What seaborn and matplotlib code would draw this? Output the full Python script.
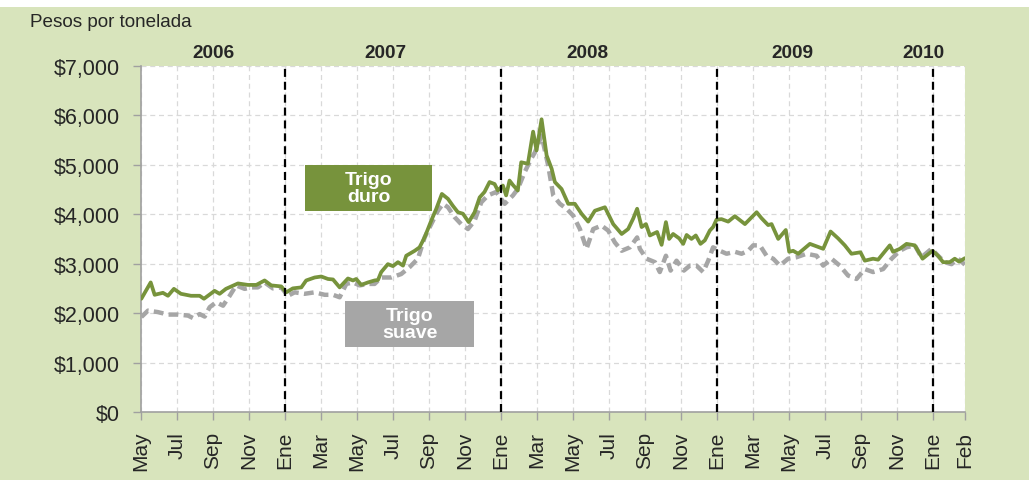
import matplotlib
matplotlib.use("Agg")
import matplotlib.pyplot as plt
from matplotlib.patches import Rectangle
import numpy as np
import pandas as pd
import seaborn as sns

# tiempo en meses desde mayo 2006
mes_duro = [0.02, 0.54, 0.76, 1.22, 1.5, 1.83, 2.22, 2.78, 3.26, 3.5, 4.09, 4.37, 4.72, 5.39, 5.94,
            6.41, 6.87, 7.24, 7.79, 8.07, 8.44, 8.91, 9.18, 9.65, 10.02, 10.39, 10.67, 11.04, 11.5,
            11.78, 11.96, 12.24, 12.61, 12.98, 13.17, 13.35, 13.72, 14.0, 14.28, 14.56, 14.74, 15.21,
            15.48, 15.76, 16.13, 16.41, 16.72, 17.06, 17.33, 17.61, 17.89, 18.21, 18.54, 18.82, 19.09,
            19.37, 19.65, 19.83, 20.11, 20.29, 20.48, 20.67, 20.94, 21.13, 21.5, 21.79, 21.98, 22.26,
            22.54, 22.82, 23.0, 23.37, 23.74, 24.11, 24.48, 24.85, 25.22, 25.78, 26.24, 26.71, 27.07,
            27.35, 27.57, 27.82, 28.06, 28.28, 28.68, 28.93, 29.17, 29.35, 29.57, 29.91, 30.13, 30.32,
            30.59, 30.83, 31.09, 31.33, 31.61, 31.79, 31.98, 32.26, 32.63, 33.0, 33.56, 34.21, 34.48,
            34.85, 35.04, 35.41, 35.83, 36.02, 36.24, 36.52, 37.17, 37.91, 38.32, 38.74, 39.11, 39.48,
            39.98, 40.22, 40.68, 40.96, 41.61, 41.79, 42.17, 42.54, 43.0, 43.43, 43.98, 44.29, 44.57,
            44.94, 45.22, 45.46, 45.78]
trigo_duro = [2290, 2620, 2370, 2410, 2350, 2490, 2390, 2350, 2350, 2290, 2450, 2390, 2490, 2600, 2570,
              2570, 2660, 2560, 2540, 2420, 2500, 2520, 2660, 2720, 2740, 2690, 2680, 2520, 2700,
              2660, 2690, 2570, 2620, 2660, 2670, 2830, 2990, 2950, 3030, 2960, 3160, 3260,
              3330, 3530, 3870, 4110, 4410, 4310, 4170, 4040, 4010, 3840, 4040, 4340, 4450,
              4650, 4610, 4480, 4580, 4380, 4680, 4590, 4480, 5050, 5020, 5670, 5290, 5920,
              5190, 4920, 4650, 4510, 4210, 4210, 4010, 3850, 4070, 4140, 3800, 3600, 3700,
              3910, 4110, 3740, 3800, 3570, 3640, 3380, 3840, 3500, 3600, 3510, 3400, 3580,
              3500, 3570, 3400, 3470, 3670, 3740, 3890, 3900, 3850, 3960, 3800, 4040, 3920,
              3780, 3800, 3500, 3680, 3240, 3260, 3200, 3400, 3300, 3650, 3510, 3370, 3200,
              3230, 3060, 3100, 3080, 3370, 3240, 3300, 3400, 3370, 3100, 3260, 3160, 3030,
              3030, 3100, 3040, 3110]

mes_suave = [0.02, 0.39, 0.94, 1.5, 2.06, 2.61, 2.89, 3.26, 3.54, 3.82, 4.18, 4.56, 4.93, 5.29, 5.76,
             6.13, 6.5, 6.87, 7.33, 7.79, 8.17, 8.54, 9.09, 9.65, 10.21, 10.67, 11.04, 11.41, 11.78,
             12.15, 12.61, 12.98, 13.35, 13.91, 14.46, 14.93, 15.39, 15.76, 16.13, 16.5, 16.78, 17.06,
             17.43, 17.79, 18.17, 18.54, 18.91, 19.28, 19.74, 20.21, 20.67, 20.94, 21.32, 21.68, 21.89,
             22.26, 22.63, 22.91, 23.28, 23.65, 24.02, 24.39, 24.76, 25.13, 25.59, 25.96, 26.33, 26.71,
             27.17, 27.57, 27.72, 28.09, 28.56, 28.83, 29.17, 29.43, 29.76, 30.17, 30.5, 30.87, 31.24,
             31.52, 31.79, 32.17, 32.54, 33.0, 33.37, 33.74, 34.02, 34.39, 34.76, 35.13, 35.5, 35.96,
             36.43, 36.98, 37.54, 37.91, 38.37, 38.83, 39.29, 39.76, 40.22, 40.68, 41.24, 41.71, 42.17,
             42.54, 43.0, 43.37, 43.93, 44.29, 44.67, 45.04, 45.41, 45.78]
trigo_suave = [1920, 2050, 2020, 1970, 1970, 1950, 1900, 1980, 1930, 2120, 2220, 2150, 2350, 2560, 2490,
               2520, 2520, 2620, 2500, 2520, 2350, 2420, 2390, 2420, 2370, 2370, 2320, 2590, 2620,
               2560, 2590, 2590, 2720, 2720, 2790, 2930, 3100, 3530, 3800, 4070, 4210, 4140,
               3940, 3800, 3700, 3870, 4240, 4380, 4450, 4210, 4380, 4510, 4850, 5120, 5250,
               5590, 4980, 4380, 4210, 4110, 3970, 3700, 3300, 3700, 3770, 3670, 3430, 3260,
               3330, 3530, 3300, 3100, 3030, 2830, 3160, 2860, 3060, 2860, 2960, 2960, 2830,
               3060, 3330, 3260, 3200, 3240, 3200, 3260, 3370, 3370, 3160, 3100, 2960, 3100,
               3130, 3200, 3160, 2960, 3100, 2960, 2760, 2690, 2890, 2830, 2890, 3100, 3260,
               3330, 3370, 3130, 3300, 3160, 3030, 2990, 3100, 2980]

nombres_mes = ["Ene", "Feb", "Mar", "Abr", "May", "Jun", "Jul", "Ago", "Sep", "Oct", "Nov", "Dic"]
anios = ["2006", "2007", "2008", "2009", "2010"]
pos_anios = [4.0, 13.6, 24.8, 36.2, 43.5]
inicios_anio = [8, 20, 32, 44]
fin = 45.8

verde = "#77933c"
gris = "#a6a6a6"
fondo = "#d8e4bc"

sns.set_style("white")
plt.rcParams["font.family"] = ["Liberation Sans", "DejaVu Sans"]

fig = plt.figure(figsize=(10.29, 4.81), dpi=100, facecolor=fondo)
ax = fig.add_axes([0.137, 0.1414, 0.801, 0.7196])
ax.set_facecolor("white")

# franja blanca arriba
fig.patches.append(Rectangle((0, 1 - 8 / 481), 1, 8 / 481, transform=fig.transFigure,
                             facecolor="white", edgecolor="none"))

df_duro = pd.DataFrame({"mes": mes_duro, "precio": trigo_duro})
df_suave = pd.DataFrame({"mes": mes_suave, "precio": trigo_suave})

sns.lineplot(data=df_suave, x="mes", y="precio", color=gris, linewidth=3.2, estimator=None,
             sort=False, ax=ax, zorder=3)
ax.lines[-1].set_dashes([2.2, 1.2])
sns.lineplot(data=df_duro, x="mes", y="precio", color=verde, linewidth=2.7, estimator=None,
             sort=False, ax=ax, zorder=4)

for x in inicios_anio:
    ax.axvline(x, color="black", linewidth=1.6, linestyle=(0, (3.6, 2.2)), zorder=5)

ticks = list(range(0, 45, 2)) + [fin]
etiquetas = [nombres_mes[(4 + int(round(t))) % 12] for t in ticks[:-1]] + ["Feb"]
ax.set_xticks(ticks)
ax.set_xticklabels(etiquetas, rotation=90, fontsize=15)
ax.set_xlim(0, fin)
ax.set_ylim(0, 7000)
ax.set_yticks(range(0, 7001, 1000))
ax.set_yticklabels([f"${v:,}" for v in range(0, 7001, 1000)], fontsize=15.5)
ax.set_xlabel("")
ax.set_ylabel("")

ax.grid(True, color="#d9d9d9", linestyle=(0, (4, 3)), linewidth=0.9)
for s in ["top", "right"]:
    ax.spines[s].set_visible(False)
for s in ["left", "bottom"]:
    ax.spines[s].set_color("#a0a0a0")
    ax.spines[s].set_linewidth(1.2)
ax.tick_params(axis="both", direction="out", length=5.5, color="#a0a0a0", width=1,
               left=True, bottom=True)
ax.tick_params(axis="y", pad=10)
ax.tick_params(axis="x", pad=8)

for a, p in zip(anios, pos_anios):
    ax.text(p, 1.015, a, transform=ax.get_xaxis_transform(), ha="center", va="bottom",
            fontsize=13.7, fontweight="bold")

fig.text(0.029, 0.954, "Pesos por tonelada", fontsize=13.6, ha="left", va="center")

# etiquetas de las series
ax.add_patch(Rectangle((0.199, 0.582), 0.154, 0.133, transform=ax.transAxes,
                       facecolor=verde, edgecolor="none", zorder=6))
ax.text(0.276, 0.6485, "Trigo\nduro", transform=ax.transAxes, ha="center", va="center",
        color="white", fontsize=14, fontweight="bold", linespacing=1.0, zorder=7)
ax.add_patch(Rectangle((0.2476, 0.189), 0.1566, 0.133, transform=ax.transAxes,
                       facecolor=gris, edgecolor="none", zorder=6))
ax.text(0.3259, 0.2555, "Trigo\nsuave", transform=ax.transAxes, ha="center", va="center",
        color="white", fontsize=14, fontweight="bold", linespacing=1.0, zorder=7)

fig.savefig("out.png", dpi=100, facecolor=fondo)
